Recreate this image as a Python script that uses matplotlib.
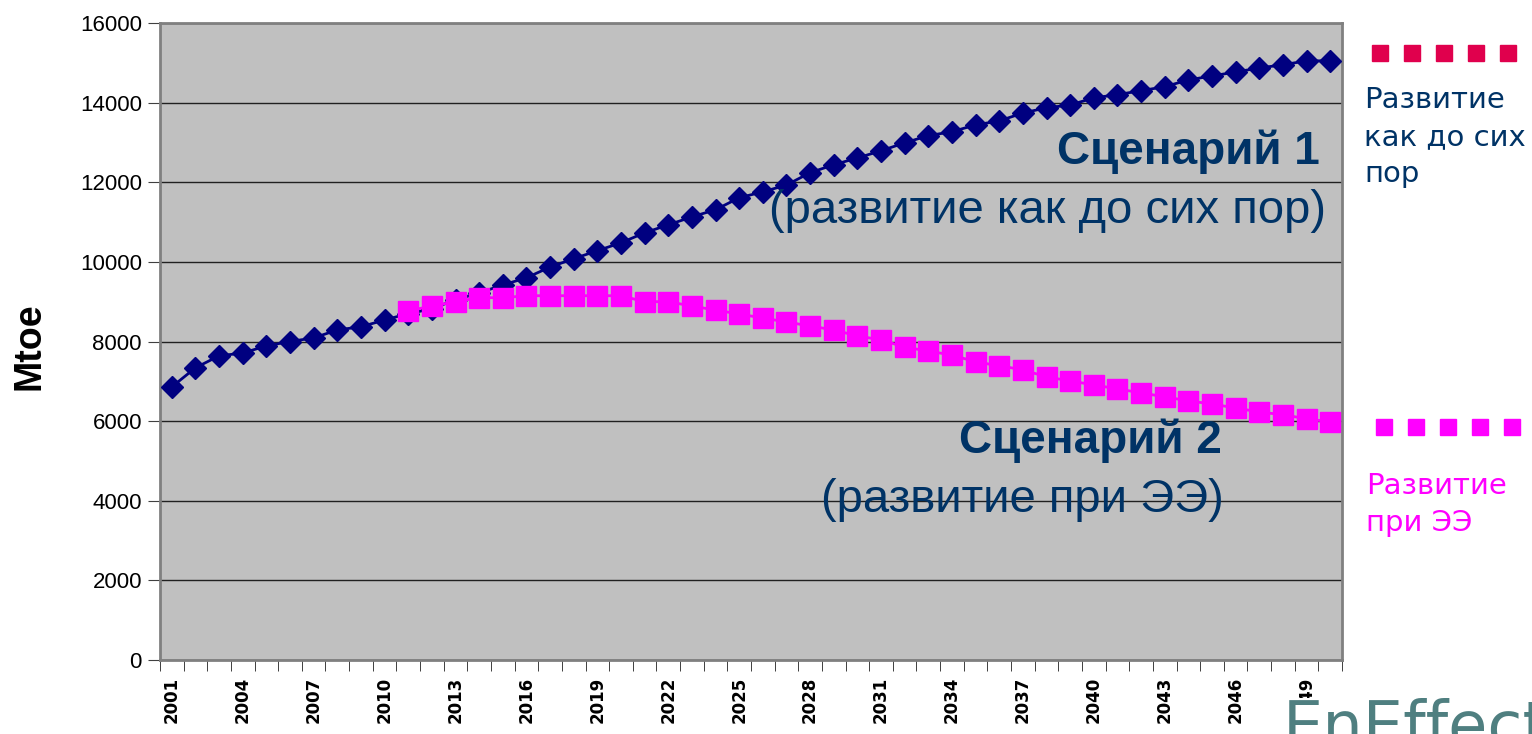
import numpy as np
import matplotlib
matplotlib.use('Agg')
import matplotlib.pyplot as plt

years = list(range(2001, 2051))

# Scenario 1 (business as usual), Mtoe
scenario1 = [6860, 7340, 7640, 7710, 7890, 8000, 8090, 8290, 8370, 8540,
             8700, 8820, 9050, 9220, 9420, 9600, 9870, 10080, 10280, 10480,
             10730, 10930, 11130, 11310, 11610, 11760, 11930, 12240, 12440, 12610,
             12790, 12990, 13170, 13270, 13440, 13540, 13740, 13870, 13940, 14120,
             14200, 14300, 14400, 14570, 14670, 14770, 14870, 14950, 15050, 15050]

# Scenario 2 (energy efficiency), starts in 2011
years2 = list(range(2011, 2051))
scenario2 = [8770, 8890, 9000, 9100, 9100, 9150, 9150, 9150, 9150, 9150,
             9000, 9000, 8890, 8790, 8690, 8590, 8490, 8390, 8290, 8140,
             8040, 7860, 7760, 7660, 7490, 7390, 7290, 7110, 7010, 6910,
             6810, 6710, 6610, 6510, 6430, 6330, 6230, 6160, 6060, 5980]

yticks = [0, 2000, 4000, 6000, 8000, 10000, 12000, 14000, 16000]

W, H = 1532, 734
fig = plt.figure(figsize=(W / 100, H / 100), dpi=100)
ax = fig.add_axes([160 / W, 1 - 660 / H, (1342 - 160) / W, (660 - 23) / H])
ax.set_facecolor('#c0c0c0')

x1 = np.arange(len(years))
x2 = np.array([years.index(y) for y in years2])

ax.plot(x1, scenario1, color='#000080', lw=2, marker='D', ms=11.5,
        markeredgecolor='#000080', zorder=3)
ax.plot(x2, scenario2, color='#ff00ff', lw=2, marker='s', ms=14,
        markeredgecolor='#ff00ff', zorder=4)

ax.set_xlim(-0.5, len(years) - 0.5)
ax.set_ylim(0, 16000)
ax.set_yticks(yticks)
ax.set_yticklabels([str(v) for v in yticks], fontsize=16, family='Liberation Sans')
ax.yaxis.grid(True, color='#202020', lw=1)
ax.set_axisbelow(True)
ax.tick_params(axis='y', direction='out', length=9, color='#404040', pad=4)

# category boundary ticks and labels every 3 years
ax.set_xticks(np.arange(-0.5, len(years), 1), minor=True)
ax.tick_params(axis='x', which='minor', direction='out', length=8, color='#202020')
lab_idx = list(range(0, len(years), 3))
ax.set_xticks(lab_idx)
ax.set_xticklabels([str(years[i]) for i in lab_idx], rotation=90, fontsize=12,
                   fontweight='bold', family='DejaVu Sans')
ax.tick_params(axis='x', which='major', length=0, pad=12)

for s in ax.spines.values():
    s.set_color('#808080')
    s.set_linewidth(2)

fig.text(30 / W, 1 - 346 / H, 'Mtoe', rotation=90, ha='center', va='center',
         fontsize=27, fontweight='bold', family='Liberation Sans')

navy = '#003366'
fig.text(1320 / W, 1 - 152 / H, 'Сценарий 1', ha='right', va='center', fontsize=33,
         fontweight='bold', color=navy, family='Liberation Sans')
fig.text(1326 / W, 1 - 211 / H, '(развитие как до сих пор)', ha='right', va='center',
         fontsize=34, color=navy, family='Liberation Sans')
fig.text(1222 / W, 1 - 441 / H, 'Сценарий 2', ha='right', va='center', fontsize=33,
         fontweight='bold', color=navy, family='Liberation Sans')
fig.text(1224 / W, 1 - 500 / H, '(развитие при ЭЭ)', ha='right', va='center',
         fontsize=34, color=navy, family='Liberation Sans')

# right-side legend
for i in range(5):
    fig.patches.append(plt.Rectangle(((1372 + i * 32) / W, 1 - 61 / H), 16 / W, 16 / H,
                                     transform=fig.transFigure, color='#e0004d'))
    fig.patches.append(plt.Rectangle(((1376 + i * 32) / W, 1 - 435 / H), 16 / W, 16 / H,
                                     transform=fig.transFigure, color='#ff00ff'))
fig.text(1364 / W, 1 - 86 / H, 'Развитие\nкак до сих\nпор', ha='left', va='top',
         fontsize=21, color=navy, family='DejaVu Sans', linespacing=1.4)
fig.text(1366 / W, 1 - 472 / H, 'Развитие\nпри ЭЭ', ha='left', va='top',
         fontsize=21, color='#ff00ff', family='DejaVu Sans', linespacing=1.4)

# logo, cut by the lower edge
fig.text(1283 / W, 1 - 698 / H, 'EnEffect', ha='left', va='top', fontsize=46,
         color='#4f7f80', family='DejaVu Sans',
         bbox=dict(facecolor='white', edgecolor='none', pad=0))

fig.savefig('out.png', dpi=100)
